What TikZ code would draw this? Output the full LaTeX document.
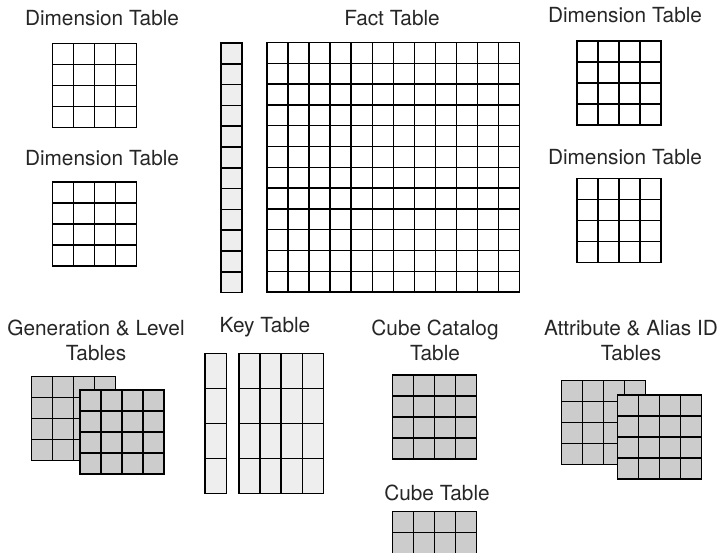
\documentclass[tikz,border=0pt]{standalone}
\usepackage{fontspec}
\setmainfont{TeX Gyre Heros}
\definecolor{keyfill}{HTML}{EEEEEE}
\definecolor{genfill}{HTML}{CCCCCC}
\tikzset{
  cell/.style={draw=black, line width=1.5pt},
  title/.style={font=\fontsize{20.8}{24.4}\selectfont, text=black!85, align=center, inner sep=0pt}
}
% a table: x, y, columns, rows, cell width, cell height, fill
\newcommand{\tablegrid}[7]{%
  \draw[cell, fill=#7] (#1,#2) rectangle ++(#3*#5,#4*#6);
  \foreach \i in {1,...,#3} \draw[cell] (#1+\i*#5,#2) -- ++(0,#4*#6);
  \foreach \j in {1,...,#4} \draw[cell] (#1,#2+\j*#6) -- ++(#3*#5,0);
}
\begin{document}
\begin{tikzpicture}[x=1pt, y=-1pt]
  \path[use as bounding box, clip] (0,0) rectangle (721,553);

  % labels
  \node[title] (dimtl) at (102,18) {Dimension Table};
  \node[title] (dimbl) at (102,158) {Dimension Table};
  \node[title] (fact) at (392,18) {Fact Table};
  \node[title] (dimtr) at (625,15) {Dimension Table};
  \node[title] (dimbr) at (625,157) {Dimension Table};
  \node[title] (gen) at (96,340.5) {Generation \& Level\\Tables};
  \node[title] (key) at (265,327) {Key Table};
  \node[title] (cubecat) at (435,340.5) {Cube Catalog\\Table};
  \node[title] (cube) at (437,493) {Cube Table};
  \node[title] (attr) at (631,340.5) {Attribute \& Alias ID\\Tables};

  % dimension tables
  \tablegrid{52.5}{43.5}{4}{4}{21}{21}{white}
  \tablegrid{52.5}{182}{4}{4}{21}{21}{white}
  \tablegrid{577}{41}{4}{4}{21}{21}{white}
  \tablegrid{577}{178.5}{4}{4}{21}{21}{white}

  % fact table with its key column
  \tablegrid{221}{43}{1}{12}{21}{20.8}{keyfill}
  \tablegrid{267}{42.5}{12}{12}{21.05}{20.8}{white}

  % generation & level tables
  \tablegrid{31.7}{376.7}{4}{4}{21}{21}{genfill}
  \tablegrid{80}{390}{4}{4}{21}{21}{genfill}

  % key table
  \tablegrid{205}{353.3}{1}{4}{21.7}{35}{keyfill}
  \tablegrid{239}{353.3}{4}{4}{21.1}{35}{keyfill}

  % cube catalog and cube tables
  \tablegrid{392.3}{375}{4}{4}{21}{21}{genfill}
  \tablegrid{392.3}{511.7}{4}{4}{21}{21}{genfill}

  % attribute & alias id tables
  \tablegrid{561.7}{380.7}{4}{4}{21}{21}{genfill}
  \tablegrid{617.3}{395}{4}{4}{21}{21}{genfill}
\end{tikzpicture}
\end{document}
